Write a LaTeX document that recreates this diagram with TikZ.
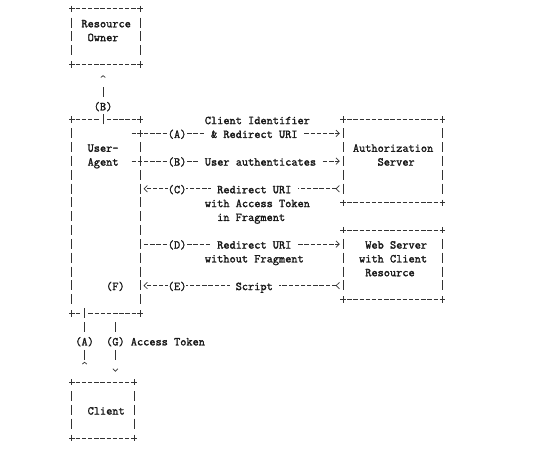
\documentclass[tikz,border=0pt]{standalone}
\usetikzlibrary{arrows.meta,calc,backgrounds}
\tikzset{
  ln/.style={draw=black!80, line width=0.7pt},
  hd/.style={ln, dash pattern=on 4.4pt off 1.77pt},
  vd/.style={ln, dash pattern=on 10pt off 3.83pt},
  txt/.style={font=\ttfamily\fontsize{12}{14}\selectfont, text=black!90, inner xsep=0pt, inner ysep=0.5pt, text height=9.5pt, text depth=0.5pt, anchor=west,
    execute at begin node={\special{pdf:literal direct 2 Tr 0.2 w}},
    execute at end node={\special{pdf:literal direct 0 Tr}}},
  onl/.style={fill=white},
  pad/.style={inner xsep=6.17pt},
  abox/.style={rectangle, draw=none, inner sep=0pt},
  hgt/.tip={Straight Barb[length=3.3pt,width=6.5pt]},
  hgtr/.tip={Straight Barb[length=3.3pt,width=6.5pt,reversed]},
  vsm/.tip={Straight Barb[length=1.8pt,width=4.5pt]},
  vsmr/.tip={Straight Barb[length=1.8pt,width=4.5pt,reversed]},
  vv/.tip={Straight Barb[length=2.6pt,width=5pt]},
}
\newcommand\aboxnode[5]{%
  \pgfmathsetmacro\myBW{6.17*(#4-#2)}%
  \pgfmathsetmacro\myBH{13.83*(#5-#3)}%
  \pgfmathsetmacro\myBX{41.15+6.17*(#2+#4)/2}%
  \pgfmathsetmacro\myBY{9+13.83*(#3+#5)/2}%
  \node[abox, minimum width=\myBW pt, minimum height=\myBH pt] (#1) at (\myBX,\myBY) {};}
\newcommand\TX[5][]{\node[txt,#1] (#2) at ({38.065+6.17*(#3)},{9+13.83*(#4)}) {#5};}
\newcommand\hseg[2]{\draw[hd] ($(#1)+(3.9,0)$) -- ($(#2)+(-3.9,0)$);}
\newcommand\vseg[2]{\draw[vd] ($(#1)+(0,8.83)$) -- ($(#2)+(0,-8.83)$);}
\newcommand\pmark[1]{\draw[ln] ($(#1)+(-2.8,0)$) -- ($(#1)+(2.8,0)$) ($(#1)+(0,-3.2)$) -- ($(#1)+(0,3.2)$);}
\newcommand\fullbox[1]{\hseg{#1.north west}{#1.north east}\hseg{#1.south west}{#1.south east}%
  \vseg{#1.north west}{#1.south west}\vseg{#1.north east}{#1.south east}%
  \pmark{#1.north west}\pmark{#1.north east}\pmark{#1.south west}\pmark{#1.south east}}
\begin{document}
\begin{tikzpicture}[x=1pt,y=-1pt]
\useasboundingbox (0,0) rectangle (533,454);
% boxes
\aboxnode{ro}{5}{0}{16}{4}
\aboxnode{ua}{5}{8}{16}{22}
\aboxnode{as}{49}{8}{65}{14}
\aboxnode{ws}{49}{16}{65}{21}
\aboxnode{cl}{5}{27}{15}{31}
% texts
\TX{tRO1}{7}{1}{Resource}
\TX{tRO2}{8}{2}{Owner}
\TX[onl]{lB1}{9}{7}{(B)}
\TX{tCI}{27}{8}{Client Identifier}
\TX[onl]{lA}{21}{9}{(A)}
\TX[onl,pad]{lAt}{27}{9}{\& Redirect URI}
\TX{tUA1}{8}{10}{User-}
\TX{tAS1}{51}{10}{Authorization}
\TX{tUA2}{8}{11}{Agent}
\TX[onl]{lB}{21}{11}{(B)}
\TX[onl,pad]{lBt}{26}{11}{User authenticates}
\TX{tAS2}{55}{11}{Server}
\TX[onl]{lC}{21}{13}{(C)}
\TX[onl,pad]{lCt}{28}{13}{Redirect URI}
\TX{tC2}{27}{14}{with Access Token}
\TX{tC3}{29}{15}{in Fragment}
\TX[onl]{lD}{21}{17}{(D)}
\TX[onl,pad]{lDt}{28}{17}{Redirect URI}
\TX{tWS1}{53}{17}{Web Server}
\TX{tD2}{27}{18}{without Fragment}
\TX{tWS2}{52}{18}{with Client}
\TX{tWS3}{53}{19}{Resource}
\TX{tF}{11}{20}{(F)}
\TX[onl]{lE}{21}{20}{(E)}
\TX[onl,pad]{lEt}{31}{20}{Script}
\TX[onl]{lA2}{6}{24}{(A)}
\TX[onl]{lG}{11}{24}{(G)}
\TX{tAT}{15}{24}{Access Token}
\TX{tCL}{8}{29}{Client}
\begin{scope}[on background layer]
\fill[white] (0,0) rectangle (533,454);
% box borders
\fullbox{ro}
\fullbox{as}
\fullbox{ws}
\fullbox{cl}
\hseg{ua.north west}{ua.north -| lB1}
\hseg{ua.north -| lB1}{ua.north east}
\hseg{ua.south west}{ua.south -| lA2}
\hseg{ua.south -| lA2}{ua.south east}
\vseg{ua.north west}{ua.south west}
\draw[vd] ($(ua.north east)+(0,22.66)$) -- ($(ua.south east)+(0,-8.83)$);
\pmark{ua.north west}\pmark{ua.north east}\pmark{ua.south west}\pmark{ua.south east}
\pmark{ua.east |- lA}
% horizontal connectors
\draw[hd,-{hgt}] ($(ua.east |- lA)+(-8.37,0)$) -- ($(as.west |- lA)+(-3.5,0)$);
\draw[hd,-{hgt}] ($(ua.east |- lB)+(-8.37,0)$) -- ($(as.west |- lB)+(-3.5,0)$);
\draw[hd,{hgtr}-{hgt}] ($(as.west |- lC)+(-3.5,0)$) -- ($(ua.east |- lC)+(3.5,0)$);
\draw[hd,-{hgt}] ($(ua.east |- lD)+(3.97,0)$) -- ($(ws.west |- lD)+(-3.5,0)$);
\draw[hd,{hgtr}-{hgt}] ($(ws.west |- lE)+(-3.5,0)$) -- ($(ua.east |- lE)+(3.5,0)$);
% vertical connectors
\draw[ln, dash pattern=on 10pt off 3.83pt on 10pt off 3.83pt on 10pt off 40pt, -{vsm}]
  ($(lB1 |- ua.north)+(0,5)$) -- ($(lB1 |- ro.south)+(0,10.7)$);
\draw[ln, dash pattern=on 10pt off 3.83pt on 10pt off 3.83pt on 10pt off 3.83pt on 10pt off 40pt, -{vsmr}]
  ($(lA2 |- ua.south)+(0,-5)$) -- ($(lA2 |- cl.north)+(0,-17.8)$);
\draw[ln, dash pattern=on 10pt off 3.83pt on 10pt off 3.83pt on 10pt off 40pt, -{vv}]
  ($(lG |- ua.south)+(0,8.83)$) -- ($(lG |- cl.north)+(0,-10.4)$);
\end{scope}
\end{tikzpicture}
\end{document}
